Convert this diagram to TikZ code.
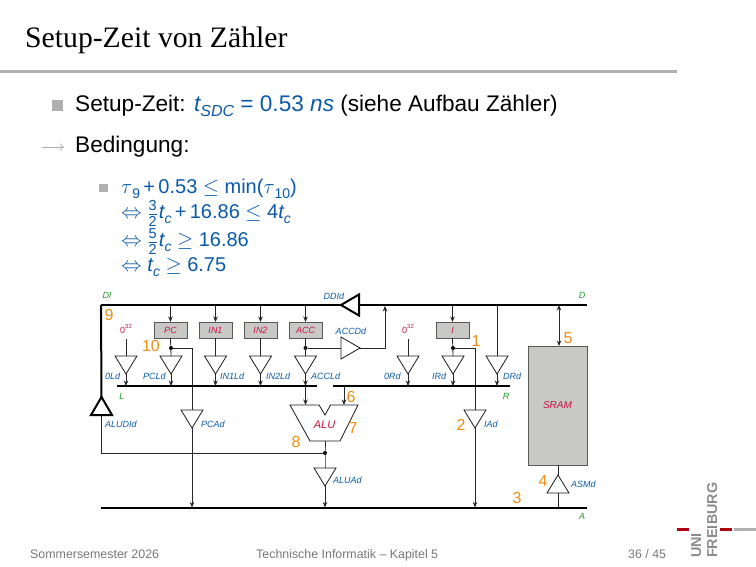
\documentclass[tikz,border=0pt]{standalone}
\usepackage{fontspec}
\setmainfont{Liberation Sans}
\newfontfamily\titlefont{Liberation Serif}
\usetikzlibrary{shapes.geometric,arrows.meta}
\definecolor{ublue}{HTML}{0A5AA8}
\definecolor{ured}{HTML}{C8143C}
\definecolor{uor}{HTML}{F08C14}
\definecolor{ugreen}{HTML}{1E9B28}
\definecolor{ufill}{HTML}{C8C9C7}
\definecolor{ubar}{HTML}{B0B0B0}
\definecolor{ufoot}{HTML}{777777}
\definecolor{ulogo}{HTML}{8C8C8C}
\definecolor{ulogored}{HTML}{B00010}
\newcommand\ivar[1]{\mbox{\itshape #1}}
\newcommand\lowtxt[2]{\raisebox{-0.22em}{\fontsize{#1}{#1}\selectfont #2}}
\newcommand\tc{\ivar{t}\lowtxt{14}{\itshape c}}
\newcommand\tauu[1]{$\tau$\lowtxt{14}{#1}}
\newcommand\fr[2]{$\frac{\mbox{\fontsize{14.5}{14.5}\selectfont #1}}{\mbox{\fontsize{14.5}{14.5}\selectfont #2}}$\kern1pt}
\tikzset{
  x=1pt,y=-1pt,
  wire/.style={draw=black!85,line width=0.8pt},
  arr/.style={wire,-{Stealth[length=5.5pt,width=4.5pt]}},
  darr/.style={wire,{Stealth[length=5.5pt,width=4.5pt]}-{Stealth[length=5.5pt,width=4.5pt]}},
  bus/.style={draw=black,line width=2pt},
  tri/.style={draw=black!90,line width=0.8pt,shape=isosceles triangle,isosceles triangle stretches,
    shape border rotate=270,minimum width=22pt,minimum height=18pt,inner sep=0pt,outer sep=0pt,anchor=apex,fill=white},
  tribig/.style={draw=black,line width=2pt,shape=isosceles triangle,isosceles triangle stretches,
    minimum width=21pt,minimum height=18pt,inner sep=0pt,outer sep=0pt,fill=white},
  reg/.style={draw=black!65,fill=ufill,line width=1pt,minimum width=33pt,minimum height=16pt,inner sep=0pt,outer sep=0pt,
    font=\fontsize{9}{10}\selectfont\itshape,text=ured},
  ctl/.style={font=\fontsize{9}{10}\selectfont\itshape,text=ublue,inner sep=0pt},
  busn/.style={font=\fontsize{9}{10}\selectfont\itshape,text=ugreen,inner sep=0pt},
  num/.style={font=\fontsize{16}{17}\selectfont,text=uor,inner sep=0pt},
  zero/.style={font=\fontsize{9}{10}\selectfont,text=ured,inner sep=0pt},
  dot/.style={circle,fill=black,inner sep=0pt,minimum size=4pt},
  mtext/.style={anchor=base west,inner sep=0pt,text=ublue,font=\fontsize{20}{22}\selectfont},
  btext/.style={anchor=base west,inner sep=0pt,font=\fontsize{22.6}{24}\selectfont},
  foot/.style={anchor=base west,inner sep=0pt,text=ufoot,font=\fontsize{12.4}{14}\selectfont},
  logo/.style={rotate=90,anchor=base west,inner sep=0pt,text=ulogo,font=\fontsize{14.4}{15}\selectfont\bfseries},
}
\begin{document}
\begin{tikzpicture}
\useasboundingbox (0,0) rectangle (756,567);
% header
\node[anchor=base west,inner sep=0pt,font=\titlefont\fontsize{29.7}{32}\selectfont] (title) at (25,48) {Setup-Zeit von Zähler};
\fill[ubar] (0,70.5) rectangle (677,73.5);
% bullets
\fill[ubar] (52,100) rectangle (63,111);
\node[btext] (t1) at (75,112) {Setup-Zeit: \textcolor{ublue}{\ivar{t}\lowtxt{16}{\itshape SDC} = 0.53 \ivar{ns}} (siehe Aufbau Zähler)};
\draw[ubar,line width=0.8pt,-{To[length=4pt,width=7pt]}] (42,147) -- (64,147);
\node[btext] (t2) at (75,153) {Bedingung:};
\fill[ubar] (99,184) rectangle (108,192.5);
\node[mtext] (m1) at (121,194) {\tauu{9}\,+\,0.53 $\leq$ min(\tauu{10})};
\node[mtext] (m2) at (121,219) {$\Leftrightarrow$ \fr{3}{2}\tc\,+\,16.86 $\leq$ 4\tc};
\node[mtext] (m3) at (121,247) {$\Leftrightarrow$ \fr{5}{2}\tc{} $\geq$ 16.86};
\node[mtext] (m4) at (121,272) {$\Leftrightarrow$ \tc{} $\geq$ 6.75};
% bus coordinates
\coordinate (Dl) at (101,305); \coordinate (Dr) at (587,305);
\coordinate (Ll) at (117,386); \coordinate (Lr) at (317,386);
\coordinate (Rl) at (333,386); \coordinate (Rr) at (510,386);
\coordinate (Al) at (101,507.5); \coordinate (Ar) at (587,507.5);
% registers
\node[reg] (pc) at (170.5,330) {PC};
\node[reg] (in1) at (215.5,330) {IN1};
\node[reg] (in2) at (260.5,330) {IN2};
\node[reg] (acc) at (305.5,330) {ACC};
\node[reg] (ireg) at (452.5,330) {I};
\node[draw=black!65,fill=ufill,line width=1pt,minimum width=59pt,minimum height=119pt,inner sep=0pt,outer sep=0pt,
  font=\fontsize{10}{11}\selectfont\itshape,text=ured] (sram) at (557.5,405.5) {SRAM};
% load tristates
\node[tri] (t0l) at (126,374) {};
\node[tri] (tpc) at (171,374) {};
\node[tri] (tin1) at (215.5,374) {};
\node[tri] (tin2) at (260.5,374) {};
\node[tri] (tacc) at (305.5,374) {};
\node[tri] (t0r) at (408,374) {};
\node[tri] (tir) at (453,374) {};
\node[tri] (tdr) at (497,374) {};
\node[tri] (tpca) at (192,428) {};
\node[tri] (tia) at (475,428) {};
\node[tri] (talua) at (325,486) {};
\node[tri,shape border rotate=90,anchor=apex] (tasm) at (558,475) {};
\node[tri,shape border rotate=0,anchor=apex,minimum width=22pt,minimum height=19pt] (taccd) at (360,348) {};
% big drivers
\node[tribig,shape border rotate=180,anchor=apex] (tddi) at (341,305) {};
\node[tribig,shape border rotate=90,anchor=apex] (talud) at (101.5,397) {};
% zeros
\node[zero] (z1) at (126,329) {0\raisebox{0.5em}{\fontsize{6}{6}\selectfont 32}};
\node[zero] (z2) at (408,329) {0\raisebox{0.5em}{\fontsize{6}{6}\selectfont 32}};
% junction dots
\node[dot] (dpc) at (171,348) {};
\node[dot] (dacc) at (305.5,348) {};
\node[dot] (dir) at (453,348) {};
\node[dot] (dalu) at (325,453) {};
% ALU
\coordinate (aA) at (290,405); \coordinate (aB) at (319,405); \coordinate (aC) at (325,415);
\coordinate (aD) at (330.5,405); \coordinate (aE) at (358,405); \coordinate (aF) at (340,441); \coordinate (aG) at (310,441);
\draw[black!90,line width=0.8pt,fill=white] (aA) -- (aB) -- (aC) -- (aD) -- (aE) -- (aF) -- (aG) -- cycle;
\node[inner sep=0pt,font=\fontsize{11}{12}\selectfont\itshape,text=ured] (alu) at (324.5,425) {ALU};
% wires
\foreach \r in {pc,in1,in2,acc,ireg}{\draw[arr] (\r.north |- Dl) -- (\r.north);}
\draw[wire] (t0l.lower side |- 0,339) -- (t0l.lower side);
\draw[wire] (t0r.lower side |- 0,339) -- (t0r.lower side);
\draw[wire] (pc.south) -- (tpc.lower side);
\draw[wire] (in1.south) -- (tin1.lower side);
\draw[wire] (in2.south) -- (tin2.lower side);
\draw[wire] (acc.south) -- (tacc.lower side);
\draw[wire] (ireg.south) -- (tir.lower side);
\draw[wire] (tdr.lower side |- Dl) -- (tdr.lower side);
\foreach \t in {t0l,tpc,tin1,tin2,tacc}{\draw[arr] (\t.apex) -- (\t.apex |- Ll);}
\foreach \t in {t0r,tir,tdr}{\draw[arr] (\t.apex) -- (\t.apex |- Rl);}
\draw[wire] (dpc) -| (tpca.lower side);
\draw[wire] (dir) -| (tia.lower side);
\draw[wire] (dacc) -- (taccd.lower side);
\draw[arr] (taccd.apex) -| (385,306);
\draw[arr] (tpca.apex) -- (tpca.apex |- Al);
\draw[arr] (tia.apex) -- (tia.apex |- Al);
\draw[arr] (talua.apex) -- (talua.apex |- Al);
\draw[wire] (talua.lower side) -- (dalu.center) -- (dalu.center |- aF);
\draw[wire] (dalu.center) -| (talud.lower side);
\draw[arr] (tacc.apex |- Ll) -- (tacc.apex |- aA);
\draw[arr] (344,386) -- (344,405);
\draw[wire] (sram.south -| tasm.apex) -- (tasm.apex);
\draw[wire] (tasm.lower side) -- (tasm.lower side |- Al);
\draw[darr] (559,305) -- (559,346);
% buses
\draw[bus] (Dl) -- (tddi.apex);
\draw[bus] (tddi.lower side) -- (Dr);
\draw[bus] (Dl) -- (talud.apex);
\draw[bus] (Ll) -- (Lr);
\draw[bus] (Rl) -- (Rr);
\draw[bus] (Al) -- (Ar);
% bus names
\node[busn] (nDI) at (107,295) {DI};
\node[busn] (nD) at (582,295) {D};
\node[busn] (nL) at (122,396) {L};
\node[busn] (nR) at (506,396) {R};
\node[busn] (nA) at (582,516) {A};
% control labels
\node[ctl] (c1) at (334,296) {DDId};
\node[ctl] (c2) at (351,331) {ACCDd};
\node[ctl,anchor=west] (c3) at (105,376) {0Ld};
\node[ctl,anchor=west] (c4) at (143,376) {PCLd};
\node[ctl,anchor=west] (c5) at (220,376) {IN1Ld};
\node[ctl,anchor=west] (c6) at (266,376) {IN2Ld};
\node[ctl,anchor=west] (c7) at (311,376) {ACCLd};
\node[ctl,anchor=west] (c8) at (384,376) {0Rd};
\node[ctl,anchor=west] (c9) at (432,376) {IRd};
\node[ctl,anchor=west] (c10) at (503,376) {DRd};
\node[ctl,anchor=west] (c11) at (105,424) {ALUDId};
\node[ctl,anchor=west] (c12) at (201,424) {PCAd};
\node[ctl,anchor=west] (c13) at (484,424) {IAd};
\node[ctl,anchor=west] (c14) at (333,480) {ALUAd};
\node[ctl,anchor=west] (c15) at (571,484) {ASMd};
% numbers
\node[num] (n9) at (109,315) {9};
\node[num] (n10) at (151,346) {10};
\node[num] (n1) at (476,341) {1};
\node[num] (n5) at (568,338) {5};
\node[num] (n6) at (351,397) {6};
\node[num] (n7) at (353,428) {7};
\node[num] (n8) at (296,442) {8};
\node[num] (n2) at (461,425) {2};
\node[num] (n3) at (517,498) {3};
\node[num] (n4) at (543,481) {4};
% footer
\node[foot] (f1) at (30,558) {Sommersemester 2026};
\node[foot] (f2) at (256,558) {Technische Informatik – Kapitel 5};
\node[foot] (f3) at (628,558) {36 / 45};
% logo
\fill[ulogored] (677,527.5) rectangle (689,530.5);
\fill[ulogored] (720,527.5) rectangle (732,530.5);
\fill[ubar] (734,527.5) rectangle (756,530.5);
\node[logo] (lu) at (701,558) {UNI};
\node[logo] (lf) at (717,558) {FREIBURG};
\end{tikzpicture}
\end{document}
